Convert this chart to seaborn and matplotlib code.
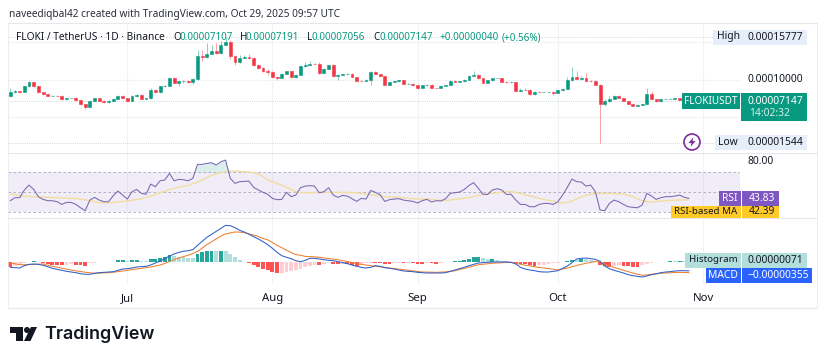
import numpy as np
import pandas as pd
import matplotlib
matplotlib.use("Agg")
import matplotlib.pyplot as plt
import matplotlib.dates as mdates
from matplotlib.patches import Rectangle, Circle, Polygon
import seaborn as sns

# all prices / macd values in units of 1e-8
days = pd.date_range("2025-06-06", periods=146)
first_open = 7761
closes = [8298, 8432, 8343, 9104, 9686, 9104, 8298, 8029, 7805, 7850, 7805, 7358, 7537, 7545, 7223, 6686, 6328, 7179, 7492, 7179,
          6955, 7134, 7447, 7850, 7537, 7134, 7761, 7985, 7447, 7492, 8566, 8298, 9104, 9193, 10268, 9552, 9775, 9865, 9731, 10089,
          13133, 13044, 13491, 13805, 13581, 14700, 15058, 13223, 12372, 12954, 13044, 12909, 11969, 11611, 11208, 10984, 10402, 10223, 10805, 11119,
          10357, 10671, 11790, 12014, 12148, 12104, 10895, 11432, 11925, 10447, 10671, 10760, 10805, 10358, 9865, 9820, 9999, 11074, 10760, 10447,
          9328, 9686, 9775, 9910, 9417, 9462, 9283, 8880, 9238, 9328, 8880, 8870, 9149, 9283, 9865, 9686, 9775, 9999, 10537, 10671,
          10178, 9552, 9910, 10223, 10240, 9686, 9641, 9686, 8522, 8656, 8650, 8030, 8388, 8343, 8343, 8343, 8208, 8567, 8790, 9910,
          10402, 10089, 10223, 9820, 9800, 9328, 6776, 7089, 7448, 7806, 7537, 7134, 6776, 6507, 6642, 6731, 8030, 7403, 7089, 7403,
          7403, 7448, 7492, 7300, 7107, 7147]
wick_up = [580, 200, 100, 100, 100, 50, 50, 100, 60, 60, 80, 100, 50, 50, 100, 100, 100, 100, 50, 50,
           50, 100, 100, 150, 100, 50, 200, 100, 50, 50, 300, 100, 50, 100, 150, 50, 50, 150, 100, 200,
           900, 900, 1430, 900, 1100, 450, 720, 250, 150, 400, 300, 350, 130, 100, 100, 200, 150, 100, 100, 100,
           100, 100, 100, 300, 300, 150, 250, 100, 100, 150, 100, 50, 100, 50, 50, 100, 100, 150, 100, 50,
           50, 50, 50, 50, 50, 50, 50, 50, 50, 100, 50, 50, 50, 50, 100, 50, 50, 100, 100, 450,
           100, 50, 50, 50, 50, 50, 100, 100, 50, 200, 200, 100, 50, 50, 50, 50, 50, 50, 100, 400,
           1250, 700, 300, 700, 150, 150, 100, 300, 400, 150, 100, 50, 50, 50, 50, 50, 850, 500, 50, 50,
           50, 50, 50, 50, 50, 44]
wick_dn = [50, 100, 100, 50, 50, 50, 50, 50, 50, 50, 50, 50, 50, 50, 50, 100, 200, 50, 50, 50,
           50, 50, 50, 50, 50, 50, 50, 50, 50, 50, 50, 50, 50, 50, 50, 50, 400, 200, 200, 300,
           150, 580, 100, 100, 100, 100, 50, 500, 450, 100, 100, 100, 150, 150, 150, 300, 150, 200, 50, 50,
           150, 100, 50, 50, 50, 50, 100, 50, 50, 50, 500, 50, 100, 50, 100, 50, 50, 700, 50, 100,
           100, 50, 50, 50, 50, 50, 100, 100, 50, 50, 50, 50, 50, 50, 50, 50, 50, 50, 50, 50,
           50, 50, 50, 50, 50, 50, 50, 50, 100, 100, 100, 50, 50, 50, 50, 50, 250, 50, 50, 50,
           50, 50, 150, 50, 50, 50, 5232, 350, 100, 50, 50, 50, 50, 100, 50, 50, 50, 50, 100, 50,
           50, 50, 50, 50, 50, 51]

rsi = [41.5, 44.5, 44.5, 52.1, 57.0, 52.7, 45.5, 42.8, 41.5, 41.5, 40.5, 37.8, 39.8, 39.8, 37.8, 34.5, 31.6, 42.1, 44.8, 42.1,
       40.5, 40.5, 46.5, 51.1, 47.1, 43.1, 50.4, 52.7, 48.8, 47.8, 58.0, 55.4, 61.3, 62.0, 68.6, 61.3, 62.7, 62.3, 61.3, 63.7,
       77.6, 77.6, 78.6, 79.2, 76.9, 80.2, 81.9, 63.7, 58.7, 60.4, 60.7, 61.0, 54.7, 52.1, 49.8, 47.8, 43.8, 42.5, 42.8, 49.8,
       45.5, 47.1, 54.4, 56.0, 56.4, 56.0, 49.4, 50.4, 54.4, 47.1, 44.8, 46.8, 46.1, 43.5, 40.8, 43.8, 43.1, 51.7, 49.8, 47.4,
       40.8, 42.5, 43.1, 43.5, 42.1, 41.5, 40.8, 39.2, 41.5, 42.8, 40.2, 41.5, 41.2, 43.5, 48.8, 49.4, 50.1, 52.7, 56.7, 59.4,
       53.7, 47.8, 47.8, 52.1, 53.4, 52.1, 47.8, 47.8, 42.1, 37.8, 37.8, 35.5, 35.5, 37.8, 38.8, 38.8, 37.8, 40.5, 47.1, 54.7,
       63.0, 60.4, 60.0, 56.0, 57.0, 50.4, 32.2, 31.6, 38.8, 42.1, 40.5, 37.8, 35.5, 34.9, 34.5, 37.2, 48.8, 46.1, 42.8, 44.5,
       45.5, 45.5, 46.1, 47.1, 44.8, 43.83]
rsi_ma = [48.1, 47.4, 46.5, 45.9, 45.7, 45.5, 45.4, 45.2, 45.0, 44.7, 44.5, 44.2, 44.0, 43.8, 43.5, 43.1, 42.4, 41.5, 40.5, 39.5,
          39.4, 39.4, 39.7, 40.2, 40.8, 41.3, 42.0, 42.7, 43.4, 44.8, 46.2, 47.8, 49.3, 50.8, 52.6, 53.8, 55.0, 55.9, 56.7, 58.3,
          60.0, 62.2, 64.4, 66.6, 68.0, 69.4, 70.2, 71.0, 70.9, 70.7, 70.4, 70.0, 69.5, 68.0, 65.5, 62.0, 60.2, 58.7, 56.8, 54.9,
          52.8, 50.2, 49.8, 49.6, 49.4, 49.7, 49.8, 49.8, 49.8, 49.8, 49.8, 49.8, 49.7, 49.6, 49.4, 48.8, 48.1, 47.6, 47.1, 46.3,
          45.4, 45.1, 44.9, 44.8, 44.3, 43.9, 43.5, 43.3, 43.2, 43.1, 42.7, 42.1, 41.6, 41.9, 42.3, 42.9, 43.3, 43.9, 44.6, 45.6,
          46.8, 47.8, 48.3, 48.9, 49.4, 49.9, 50.5, 50.5, 49.7, 48.8, 47.5, 46.3, 45.1, 44.0, 42.8, 41.7, 41.3, 39.5, 39.3, 40.0,
          41.0, 43.4, 45.3, 46.8, 47.7, 48.4, 48.8, 48.8, 48.8, 48.8, 48.3, 47.8, 47.0, 45.6, 43.2, 41.5, 40.5, 40.3, 40.7, 41.1,
          41.5, 41.8, 42.1, 42.2, 42.3, 42.39]

macd = [-213, -227, -240, -147, -93, -80, -93, -133, -187, -253, -293, -333, -373, -400, -427, -467, -493, -493, -453, -427,
        -413, -400, -387, -333, -280, -267, -240, -200, -187, -173, -120, -40, 40, 133, 240, 320, 387, 427, 453, 493,
        667, 827, 987, 1107, 1227, 1347, 1467, 1453, 1373, 1267, 1200, 1107, 1013, 920, 813, 693, 547, 387, 253, 187,
        133, 53, 13, 67, 147, 147, 120, 93, 67, 53, 13, -27, -67, -120, -173, -213, -240, -213, -147, -173,
        -227, -253, -280, -320, -360, -373, -387, -413, -427, -440, -440, -440, -440, -427, -373, -320, -267, -213, -147, -93,
        -40, -27, -13, 0, 0, 0, 0, -13, -80, -213, -280, -320, -347, -387, -400, -400, -373, -347, -253, -160,
        -27, 120, 147, 160, 133, 107, 27, -160, -267, -333, -387, -440, -507, -547, -573, -600, -560, -507, -467, -427,
        -400, -387, -360, -347, -347, -355]
signal = [-40, -70, -107, -110, -107, -100, -85, -80, -130, -170, -205, -245, -285, -320, -350, -380, -410, -430, -450, -445,
          -435, -425, -410, -385, -360, -335, -305, -280, -255, -225, -200, -160, -120, -60, 30, 95, 160, 215, 270, 340,
          430, 555, 695, 810, 930, 1040, 1120, 1165, 1200, 1195, 1175, 1130, 1075, 1020, 940, 890, 780, 665, 570, 470,
          380, 295, 270, 225, 215, 205, 190, 165, 140, 115, 90, 55, 20, -20, -67, -95, -120, -145, -170, -190,
          -215, -240, -260, -285, -305, -330, -355, -380, -400, -405, -410, -413, -405, -395, -380, -350, -300, -255, -210, -160,
          -110, -90, -70, -50, -40, -30, -20, -15, -50, -90, -130, -160, -190, -220, -240, -265, -290, -320, -280, -240,
          -190, -140, -95, -50, -15, 20, 0, -107, -160, -215, -275, -330, -385, -440, -490, -530, -515, -490, -475, -455,
          -440, -430, -420, -415, -420, -426]
hist = [-213, -160, -107, -40, 0, 27, 13, -40, -93, -107, -107, -120, -107, -80, -107, -133, -147, -40, -27, -13,
        -13, -13, 13, 67, 68, 27, 67, 93, 40, 27, 107, 120, 173, 187, 267, 240, 213, 187, 160, 147,
        333, 400, 440, 453, 427, 453, 440, 333, 200, 93, 13, -40, -133, -213, -267, -320, -400, -453, -427, -400,
        -347, -307, -267, -200, -160, -107, -120, -67, -40, -67, -93, -67, -67, -120, -173, -67, -40, -27, -27, -40,
        -67, -80, -53, -27, -53, -27, -27, -80, -80, -27, -27, -67, -27, -13, 13, 27, 53, 80, 120, 187,
        213, 147, 107, 120, 93, 53, 40, 13, -40, -67, -80, -107, -160, -133, -107, -80, -53, -40, -13, 40,
        67, 67, 120, 107, 67, 27, -107, -160, -187, -160, -133, -147, -173, -187, -213, -133, -80, -40, -13, 0,
        13, 27, 27, 40, 40, 71]

month_ticks = ["2025-07-01", "2025-08-01", "2025-09-01", "2025-10-01", "2025-11-01"]
month_labels = ["Jul", "Aug", "Sep", "Oct", "Nov"]
price_grid = [15000, 10000, 5000]

GREEN, RED = "#089981", "#F23645"
INK = "#131722"
GRID = "#F2F3F6"
LINE = "#E6E8EE"
W, H = 825, 361

sns.set_theme(style="white")
plt.rcParams["font.family"] = ["Noto Sans", "DejaVu Sans"]

closes = np.array(closes, float)
opens = np.r_[first_open, closes[:-1]]
highs = np.maximum(opens, closes) + np.array(wick_up)
lows = np.minimum(opens, closes) - np.array(wick_dn)
hist = np.array(hist, float)
x = mdates.date2num(days)


def panel(top, bottom):
    a = fig.add_axes([8 / W, 1 - bottom / H, 732 / W, (bottom - top) / H])
    a.set_xlim(x[0] - 0.49, x[0] + 155.9)
    a.set_xticks(mdates.date2num(pd.to_datetime(month_ticks)))
    a.xaxis.grid(True, color=GRID, lw=0.8)
    a.set_yticks([])
    a.tick_params(length=0, labelbottom=False)
    a.set_xlabel("")
    a.set_ylabel("")
    sns.despine(ax=a, left=True, bottom=True)
    return a


fig = plt.figure(figsize=(W / 100, H / 100), dpi=100, facecolor="white")

# ---- candles
ax = panel(23, 153)
ax.set_ylim(155, 17615)
for p in price_grid:
    ax.axhline(p, color=GRID, lw=0.8, zorder=0)
ax.axhline(15777, color="#B2B5BE", lw=0.5, ls=(0, (1, 2)))
ax.axhline(1544, color="#B2B5BE", lw=0.5, ls=(0, (1, 2)))
ax.axhline(closes[-1], color="#9DB8B2", lw=0.5, ls=(0, (1, 2)))
cols = [GREEN if c >= o else RED for o, c in zip(opens, closes)]
ax.vlines(x, lows, highs, colors=cols, lw=0.6, alpha=0.55, zorder=2)
ax.bar(x, np.abs(closes - opens), bottom=np.minimum(opens, closes), width=0.62,
       color=cols, edgecolor=cols, lw=0.4, zorder=3)

# ---- rsi
ax2 = panel(153, 218)
ax2.set_ylim(24.3, 88.9)
ax2.axhspan(30, 70, color="#7E57C2", alpha=0.11, lw=0)
for lev in [70, 50, 30]:
    ax2.axhline(lev, color="#A9A6B8", lw=0.6, ls=(0, (3, 3)))
r = np.array(rsi)
ax2.fill_between(x, 70, r, where=r > 70, color=GREEN, alpha=0.15, lw=0, interpolate=True)
sns.lineplot(x=x, y=rsi_ma, ax=ax2, color="#F2DDA0", lw=1.0)
sns.lineplot(x=x, y=rsi, ax=ax2, color="#7A68B0", lw=0.75)
ax2.set_yticks([])

# ---- macd
ax3 = panel(218, 285)
ax3.set_ylim(-920, 1760)
hcols = []
for i, v in enumerate(hist):
    prev = hist[i - 1] if i else v
    if v >= 0:
        hcols.append("#26A69A" if v > prev else "#B2DFDB")
    else:
        hcols.append("#FFCDD2" if v > prev else "#FF5252")
ax3.bar(x, hist, width=0.82, color=hcols, lw=0, zorder=2)
sns.lineplot(x=x, y=signal, ax=ax3, color="#EE8030", lw=0.75, zorder=3)
sns.lineplot(x=x, y=macd, ax=ax3, color="#2F5FC8", lw=0.75, zorder=4)
ax3.set_yticks([])
ax3.set_xticklabels(month_labels)
ax3.tick_params(labelbottom=True, pad=6, labelsize=8.2, labelcolor=INK)

# ---- overlay in pixel coordinates: frame, price scale tags, header, logo
ov = fig.add_axes([0, 0, 1, 1], zorder=10)
ov.set_xlim(0, W)
ov.set_ylim(H, 0)
ov.axis("off")
ov.patch.set_alpha(0)
for y0 in [23, 153, 218, 308]:
    ov.plot([8, 817], [y0, y0], color=LINE, lw=0.8)
ov.plot([8, 8], [23, 308], color=LINE, lw=0.5)
ov.plot([817, 817], [23, 308], color=LINE, lw=0.5)


def txt(px, py, s, color=INK, size=7.4, ha="left", **kw):
    ov.text(px, py, s, color=color, fontsize=size, ha=ha, va="center", **kw)


def box(x0, x1, y0, y1, color):
    ov.add_patch(Rectangle((x0, y0), x1 - x0, y1 - y0, color=color, lw=0, zorder=2))


txt(9, 14, "naveediqbal42 created with TradingView.com, Oct 29, 2025 09:57 UTC", size=7.3, color="#2A2E39")
txt(16, 37.5, "FLOKI / TetherUS · 1D · Binance", size=7.3)
for px, lab in [(173, "O"), (240, "H"), (307, "L"), (373, "C")]:
    txt(px, 37.5, lab, size=7.1)
for px, val in [(180, "0.00007107"), (246, "0.00007191"), (312, "0.00007056"), (379, "0.00007147"),
                (439, "+0.00000040"), (502, "(+0.56%)")]:
    txt(px, 37.5, val, color=GREEN, size=7.1)

ov.text(748, 42.5, "0.00015000", color=INK, fontsize=7.4, va="center", zorder=1)
box(713, 807, 30, 44.5, "#E6EEFA")
ov.text(717, 36.5, "High", color=INK, fontsize=7.4, va="center", zorder=3)
ov.text(748, 37, "0.00015777", color=INK, fontsize=7.4, va="center", zorder=3)
txt(748, 80, "0.00010000")
box(682, 740, 93, 109, GREEN)
box(741, 807, 93, 121, GREEN)


def tag(px, py, s, color=INK, size=7.4, ha="left"):
    ov.text(px, py, s, color=color, fontsize=size, ha=ha, va="center", zorder=3)


tag(711, 101, "FLOKIUSDT", "white", 7.2, "center")
tag(748, 101, "0.00007147", "white")
tag(749, 114, "14:02:32", "#D5EFEA")
box(715, 807, 135, 150, "#E6EEFA")
tag(718, 142.5, "Low")
tag(748, 142.5, "0.00001544")
ov.add_patch(Circle((692, 142), 8, fill=False, ec="#7B2D9E", lw=1.2))
ov.add_patch(Polygon([(693.5, 137), (688.5, 143), (691.5, 143), (690.5, 147), (695.5, 141), (692.5, 141)],
                     color="#7B2D9E", lw=0))

txt(748, 162, "80.00")
box(719, 741, 191, 206, "#7E57C2")
box(741.5, 779, 191, 206, "#7E57C2")
tag(730, 198.5, "RSI", "white", 7.4, "center")
tag(749, 198.5, "43.83", "white")
box(671, 741, 206, 218, "#FFCA28")
box(741.5, 779, 206, 218, "#FFCA28")
tag(706, 212, "RSI-based MA", INK, 7.0, "center")
tag(749, 212, "42.39")

box(685, 741, 253, 268, "#B2DFDB")
box(741.5, 807, 253, 268, "#B2DFDB")
tag(713, 260, "Histogram", INK, 7.0, "center")
tag(748, 260.5, "0.00000071")
box(706, 741, 268, 283, "#2962FF")
box(741.5, 812, 268, 283, "#2962FF")
tag(723, 275.5, "MACD", "white", 7.4, "center")
tag(748, 275.5, "−0.00000355", "white")

# logo
ov.add_patch(Polygon([(10, 327), (23, 327), (23, 341), (16, 341), (16, 333), (10, 333)], color=INK, lw=0))
ov.add_patch(Circle((27, 330), 3, color=INK, lw=0))
ov.add_patch(Polygon([(31, 327), (37, 327), (30.5, 341), (24, 341)], color=INK, lw=0))
ov.text(44, 334, "TradingView", color=INK, fontsize=12.9, fontweight="semibold", family="Inter", ha="left", va="center")

fig.savefig("out.png", dpi=100)
